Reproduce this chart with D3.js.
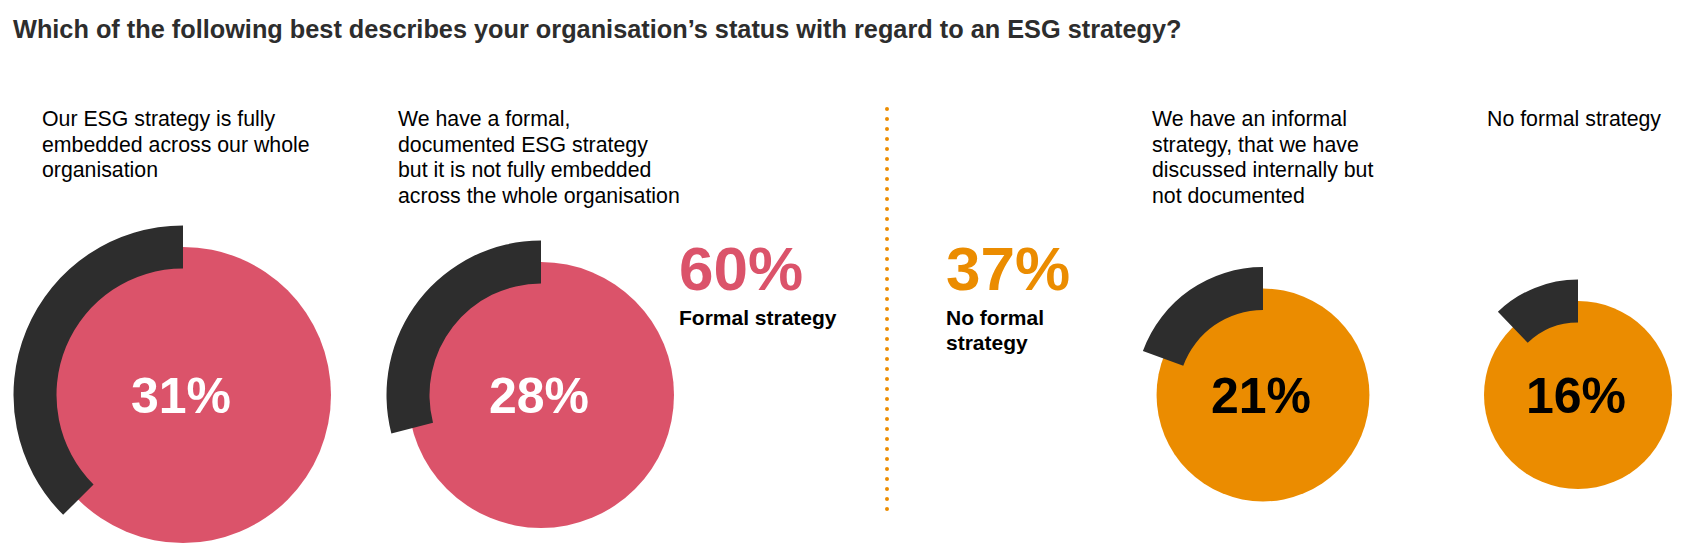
<!DOCTYPE html>
<html>
<head>
<meta charset="utf-8">
<script src="https://cdn.jsdelivr.net/npm/d3@7"></script>
<style>
  body { margin: 0; background: #fff; }
  svg { display: block; font-family: "Liberation Sans", Arial, Helvetica, sans-serif; }
</style>
</head>
<body>
<svg width="1685" height="554"></svg>
<script>
const title = "Which of the following best describes your organisation\u2019s status with regard to an ESG strategy?";

const categories = [
  ["Our ESG strategy is fully", "embedded across our whole", "organisation"],
  ["We have a formal,", "documented ESG strategy", "but it is not fully embedded", "across the whole organisation"],
  ["We have an informal", "strategy, that we have", "discussed internally but", "not documented"],
  ["No formal strategy"]
];
const values = [31, 28, 21, 16];
// dark arc length, in percent of a full turn
const arcShare = [37.5, 29, 19.4, 12.2];
const groupOf = ["formal", "formal", "none", "none"];

const groupNames = ["Formal strategy", "No formal strategy"];
const groupLines = [["Formal strategy"], ["No formal", "strategy"]];
const groupTotals = [60, 37];

const colors = { formal: "#DB536A", none: "#EB8C00", dark: "#2D2D2D" };

const svg = d3.select("svg");

svg.append("text")
  .attr("x", 13)
  .attr("y", 38)
  .attr("font-size", 25.3)
  .attr("font-weight", "bold")
  .attr("fill", "#2D2D2D")
  .text(title);

// layout
const centerX = [183, 541, 1263, 1578];
const labelX = [42, 398, 1152, 1487];
const cy = 395;
const band = 21.5;

const r = d3.scalePow().exponent(2.5)
  .domain([16, 31])
  .range([94, 148]);

const angle = d3.scaleLinear()
  .domain([0, 100])
  .range([0, 2 * Math.PI]);

const arc = d3.arc();

const item = svg.append("g")
  .selectAll("g")
  .data(values.map((v, i) => ({ v, i })))
  .join("g")
  .attr("transform", d => `translate(${centerX[d.i]},${cy})`);

item.append("circle")
  .attr("r", d => r(d.v))
  .attr("fill", d => colors[groupOf[d.i]]);

item.append("path")
  .attr("fill", colors.dark)
  .attr("d", d => arc({
    innerRadius: r(d.v) - band,
    outerRadius: r(d.v) + band,
    startAngle: -angle(arcShare[d.i]),
    endAngle: 0
  }));

item.append("text")
  .attr("text-anchor", "middle")
  .attr("x", -2)
  .attr("y", 18)
  .attr("font-size", 50)
  .attr("font-weight", "bold")
  .attr("fill", d => groupOf[d.i] === "formal" ? "#fff" : "#000")
  .text(d => d.v + "%");

// category labels
svg.append("g")
  .selectAll("text")
  .data(categories)
  .join("text")
  .attr("x", (d, i) => labelX[i])
  .attr("y", 126)
  .attr("font-size", 21.3)
  .attr("fill", "#000")
  .selectAll("tspan")
  .data(d => d)
  .join("tspan")
  .attr("x", function () { return this.parentNode.getAttribute("x"); })
  .attr("dy", (d, j) => j === 0 ? 0 : 25.5)
  .text(d => d);

// group totals
const totalX = [679, 946];
const totalColor = [colors.formal, colors.none];

const total = svg.append("g")
  .selectAll("g")
  .data(groupTotals)
  .join("g")
  .attr("transform", (d, i) => `translate(${totalX[i]},0)`);

total.append("text")
  .attr("y", 290)
  .attr("font-size", 62)
  .attr("font-weight", "bold")
  .attr("fill", (d, i) => totalColor[i])
  .text(d => d + "%");

total.append("text")
  .attr("y", 325)
  .attr("font-size", 21)
  .attr("font-weight", "bold")
  .attr("fill", "#000")
  .selectAll("tspan")
  .data((d, i) => groupLines[i])
  .join("tspan")
  .attr("x", 0)
  .attr("dy", (d, j) => j === 0 ? 0 : 25)
  .text(d => d);

// dotted divider
svg.append("line")
  .attr("x1", 887).attr("x2", 887)
  .attr("y1", 109).attr("y2", 511)
  .attr("stroke", colors.none)
  .attr("stroke-width", 4)
  .attr("stroke-linecap", "round")
  .attr("stroke-dasharray", "0 10");
</script>
</body>
</html>
